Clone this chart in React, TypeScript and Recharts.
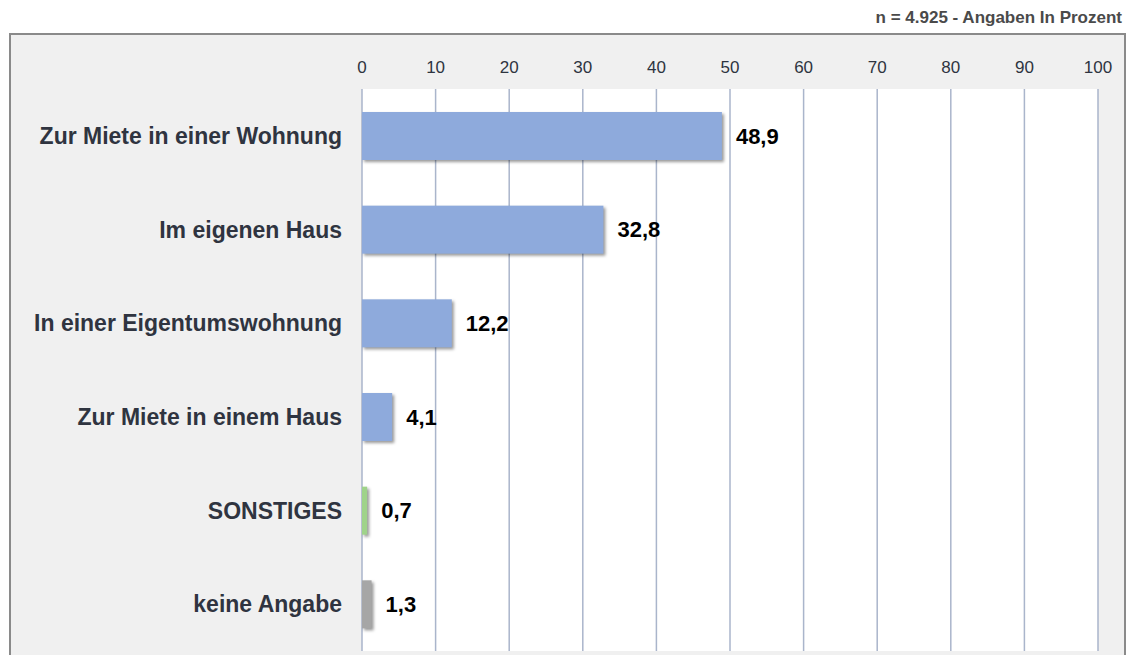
import { BarChart, Bar, XAxis, YAxis, CartesianGrid, Cell, LabelList } from 'recharts'

const categories = [
  'Zur Miete in einer Wohnung',
  'Im eigenen Haus',
  'In einer Eigentumswohnung',
  'Zur Miete in einem Haus',
  'SONSTIGES',
  'keine Angabe',
]
const values = [48.9, 32.8, 12.2, 4.1, 0.7, 1.3]
const barColors = ['#8eaadc', '#8eaadc', '#8eaadc', '#8eaadc', '#9fd38a', '#a6a6a6']
const xTicks = [0, 10, 20, 30, 40, 50, 60, 70, 80, 90, 100]
const subtitle = 'n = 4.925 - Angaben In Prozent'

const chartData = categories.map((name, i) => ({ name, value: values[i] }))

const FONT = '"Liberation Sans", Arial, sans-serif'

// bar with a soft drop shadow, like the original export
function ShadowBar(props: any) {
  const { x, y, width, height, fill } = props
  return (
    <rect
      x={x}
      y={y}
      width={Math.max(width, 0)}
      height={height}
      fill={fill}
      style={{ filter: 'drop-shadow(2px 2px 1.5px rgba(0,0,0,0.4))' }}
    />
  )
}

export default function App() {
  return (
    <div style={{ position: 'absolute', left: 0, top: 0, width: 1129, height: 655, overflow: 'hidden', background: '#fff' }}>
      <div
        style={{
          position: 'absolute',
          right: 7,
          top: 8,
          fontFamily: FONT,
          fontWeight: 'bold',
          fontSize: 17,
          color: '#4a4a4a',
        }}
      >
        {subtitle}
      </div>
      <div
        style={{
          position: 'absolute',
          left: 9,
          top: 33,
          width: 1113,
          height: 640,
          border: '2px solid #8a8a8a',
          background: '#f0f0f0',
        }}
      />
      <div style={{ position: 'absolute', left: 0, top: 0 }}>
        <BarChart
          width={1129}
          height={655}
          data={chartData}
          layout="vertical"
          margin={{ top: 59, right: 31, bottom: 4, left: 0 }}
          barCategoryGap={0}
        >
          <CartesianGrid horizontal={false} stroke="#aab5cb" strokeWidth={1.5} fill="#ffffff" />
          <XAxis
            type="number"
            orientation="top"
            domain={[0, 100]}
            ticks={xTicks}
            axisLine={false}
            tickLine={false}
            tickSize={0}
            tickMargin={16}
            height={30}
            tick={{ fill: '#2e3440', fontSize: 17, fontFamily: FONT }}
          />
          <YAxis
            type="category"
            dataKey="name"
            width={362}
            axisLine={false}
            tickLine={false}
            tickSize={0}
            tickMargin={20}
            tick={{ fill: '#2f3440', fontSize: 23, fontWeight: 'bold', fontFamily: FONT }}
          />
          <Bar dataKey="value" barSize={48} isAnimationActive={false} shape={ShadowBar}>
            {chartData.map((d, i) => (
              <Cell key={d.name} fill={barColors[i]} />
            ))}
            <LabelList
              dataKey="value"
              position="right"
              offset={14}
              formatter={(v: any) => String(v).replace('.', ',')}
              style={{ fill: '#000', fontSize: 22, fontWeight: 'bold', fontFamily: FONT }}
            />
          </Bar>
        </BarChart>
      </div>
    </div>
  )
}
